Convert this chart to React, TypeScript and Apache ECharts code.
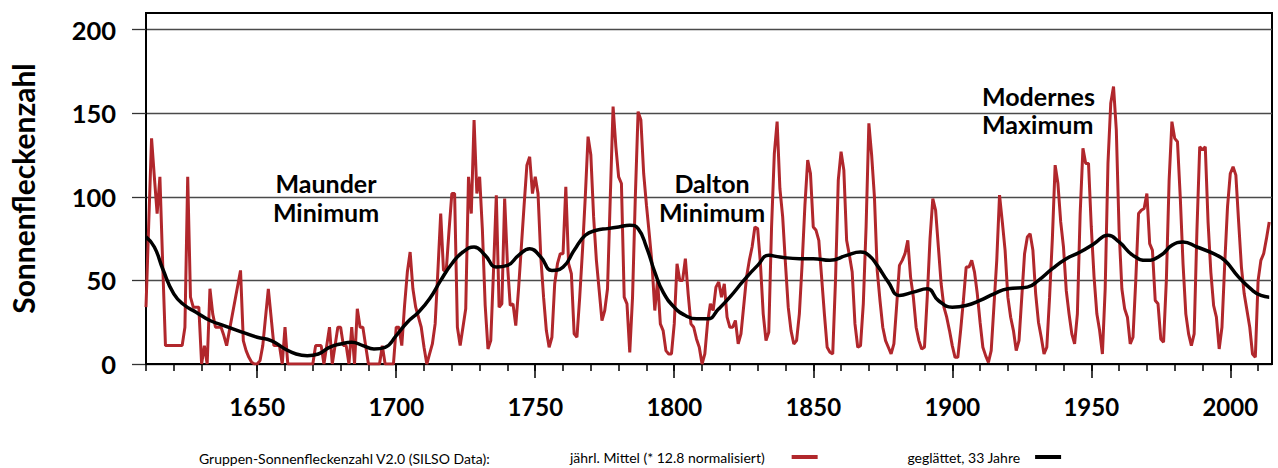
import React, { useEffect, useRef } from "react";
import * as echarts from "echarts";

// Gruppen-Sonnenfleckenzahl, jährliches Mittel (* 12.8), 1610 ... 2014
const FIRST_YEAR = 1610;
const annual1600s = [
  34, 85, 135, 112, 90, 112, 60, 11, 11, 11,
  11, 11, 11, 11, 22, 112, 40, 34, 34, 34,
  0, 11, 0, 45, 30, 22, 22, 22, 17, 11,
  20, 29, 38, 47, 56, 14, 8, 4, 1, 0,
  0, 2, 11, 28, 45, 28, 11, 11, 11, 0,
  22, 0, 0, 0, 0, 0, 0, 0, 0, 0,
  0, 11, 11, 11, 0, 11, 22, 0, 11, 22,
  22, 11, 11, 0, 22, 0, 33, 22, 22, 11,
  0, 0, 0, 0, 0, 11, 0, 0, 0, 0,
];
const annual1700s = [
  22, 22, 11, 35, 55, 67, 45, 34, 28, 22,
  10, 0, 6, 12, 24, 56, 90, 56, 56, 80,
  102, 102, 22, 11, 22, 33, 112, 90, 146, 102,
  112, 80, 35, 9, 14, 56, 101, 34, 36, 99,
  60, 35, 36, 23, 45, 70, 95, 119, 124, 102,
  112, 102, 64, 40, 20, 10, 16, 48, 60, 66,
  66, 106, 60, 54, 18, 16, 40, 68, 100, 136,
  125, 88, 62, 44, 26, 32, 45, 100, 154, 130,
  112, 108, 40, 36, 7, 40, 100, 151, 146, 114,
  95, 78, 60, 32, 50, 24, 20, 8, 6, 6,
];
const annual1800s = [
  24, 60, 50, 50, 63, 42, 24, 22, 15, 10,
  0, 6, 25, 36, 32, 46, 49, 40, 48, 28,
  22, 22, 26, 12, 18, 35, 52, 62, 70, 82,
  81, 60, 30, 14, 19, 82, 126, 145, 105, 88,
  60, 34, 20, 12, 14, 30, 60, 95, 122, 114,
  82, 80, 74, 52, 30, 10, 7, 6, 50, 110,
  127, 116, 74, 65, 55, 24, 10, 11, 36, 82,
  144, 125, 100, 56, 38, 22, 14, 10, 6, 12,
  35, 59, 62, 66, 74, 52, 40, 22, 14, 9,
  10, 40, 75, 99, 92, 70, 48, 34, 28, 20,
];
const annual1900s = [
  11, 4, 4, 20, 38, 58, 58, 62, 55, 42,
  25, 10, 5, 1, 8, 35, 62, 101, 85, 68,
  40, 28, 20, 8, 14, 40, 66, 76, 78, 68,
  42, 25, 16, 6, 10, 40, 75, 119, 108, 85,
  70, 44, 30, 18, 12, 30, 90, 129, 120, 120,
  82, 52, 30, 20, 6, 45, 120, 156, 166, 140,
  80, 45, 33, 28, 12, 16, 50, 90, 92, 93,
  102, 72, 68, 38, 36, 15, 13, 50, 110, 145,
  135, 133, 100, 60, 30, 18, 11, 18, 80, 130,
  128, 130, 85, 55, 35, 28, 9, 22, 60, 94,
];
const annual2000s = [
  114, 118, 113, 85, 58, 42, 32, 22, 6, 4,
  50, 62, 66, 75, 85,
];

// geglättet, 33 Jahre
const smoothYears = [
  1610, 1613, 1616, 1620, 1624, 1628, 1633, 1638, 1643, 1650, 1655, 1660, 1664, 1668,
  1672, 1676, 1680, 1684, 1688, 1692, 1696, 1700, 1704, 1708, 1712, 1716, 1720, 1724,
  1728, 1732, 1736, 1740, 1744, 1748, 1752, 1756, 1760, 1764, 1768, 1772, 1776, 1780,
  1784, 1787, 1790, 1793, 1796, 1800, 1804, 1808, 1812, 1816, 1820, 1825, 1830, 1834,
  1838, 1845, 1850, 1856, 1862, 1867, 1870, 1873, 1877, 1881, 1886, 1891, 1895, 1900,
  1905, 1910, 1915, 1920, 1927, 1931, 1936, 1941, 1946, 1951, 1956, 1960, 1965, 1970,
  1975, 1979, 1983, 1988, 1994, 1998, 2003, 2008, 2011, 2014,
];
const smoothValues = [
  76, 70, 57, 42, 35, 31, 26, 23, 20, 16, 14, 9, 6, 5,
  6, 10, 12, 13, 11, 9, 10, 17, 25, 31, 39, 50, 60, 67,
  70, 65, 58, 59, 65, 69, 64, 56, 58, 68, 77, 80, 81, 82,
  83, 81, 70, 55, 43, 34, 29, 27, 27, 33, 40, 50, 59, 65,
  64, 63, 63, 62, 65, 67, 65, 59, 49, 41, 43, 45, 38, 34,
  35, 38, 42, 45, 46, 50, 57, 63, 67, 72, 77, 73, 65, 62,
  65, 71, 73, 70, 66, 62, 52, 44, 41, 40,
];

const yTickValues = [0, 50, 100, 150, 200];
const xLabelYears = [1650, 1700, 1750, 1800, 1850, 1900, 1950, 2000];
const xMinorYears = [
  1610, 1620, 1630, 1640, 1650, 1660, 1670, 1680, 1690, 1700, 1710, 1720, 1730, 1740,
  1750, 1760, 1770, 1780, 1790, 1800, 1810, 1820, 1830, 1840, 1850, 1860, 1870, 1880,
  1890, 1900, 1910, 1920, 1930, 1940, 1950, 1960, 1970, 1980, 1990, 2000, 2010,
];

const SERIES_ANNUAL = "jährl. Mittel (* 12.8 normalisiert)";
const SERIES_SMOOTH = "geglättet, 33 Jahre";
const SOURCE_LABEL = "Gruppen-Sonnenfleckenzahl V2.0 (SILSO Data):";
const Y_TITLE = "Sonnenfleckenzahl";
const annotationTexts = [
  ["Maunder", "Minimum"],
  ["Dalton", "Minimum"],
  ["Modernes", "Maximum"],
];

const RED = "#B1272C";
const FONT = "Lato";

export default function App() {
  const ref = useRef<HTMLDivElement>(null);

  useEffect(() => {
    if (!ref.current) return;
    const chart = echarts.init(ref.current, undefined, { renderer: "svg" });

    const annualValues = [
      ...annual1600s,
      ...annual1700s,
      ...annual1800s,
      ...annual1900s,
      ...annual2000s,
    ];
    const annualData = annualValues.map((v, i) => [FIRST_YEAR + i, v]);
    const smoothData = smoothYears.map((y, i) => [y, smoothValues[i]]);

    const annoLine = (text: string, x: number, y: number, align: string) => ({
      type: "text",
      x,
      y,
      z: 10,
      style: {
        text,
        fontFamily: FONT,
        fontWeight: "bold",
        fontSize: 25,
        fill: "#000",
        textAlign: align,
        textVerticalAlign: "middle",
      },
    });
    const anno = (lines: string[], x: number, y0: number, gap: number, align: string) =>
      lines.map((t, i) => annoLine(t, x, y0 + i * gap, align));

    const legendText = (gap: number) => ({
      fontFamily: FONT,
      fontSize: 14,
      color: "#000",
      padding: [0, gap, 0, 0],
    });

    chart.setOption({
      animation: false,
      backgroundColor: "#fff",
      grid: {
        left: 145,
        right: 6,
        top: 13,
        bottom: 104,
        show: true,
        borderColor: "#000",
        borderWidth: 2,
        containLabel: false,
      },
      legend: [
        {
          data: [SERIES_ANNUAL],
          left: 570,
          top: 450,
          padding: 0,
          align: "right",
          icon: "rect",
          itemWidth: 26,
          itemHeight: 4,
          textStyle: legendText(22),
        },
        {
          data: [SERIES_SMOOTH],
          left: 907,
          top: 450,
          padding: 0,
          align: "right",
          icon: "rect",
          itemWidth: 26,
          itemHeight: 4,
          textStyle: legendText(10),
        },
      ],
      xAxis: [
        {
          type: "value",
          min: 1610,
          max: 2015,
          position: "bottom",
          axisLine: { show: true, onZero: false, lineStyle: { color: "#000", width: 2 } },
          axisTick: {
            show: true,
            length: 7,
            customValues: xMinorYears,
            lineStyle: { color: "#000", width: 1.5 },
          },
          axisLabel: {
            customValues: xLabelYears,
            formatter: (v: number) => String(v),
            fontFamily: FONT,
            fontWeight: "bold",
            fontSize: 24,
            color: "#000",
            margin: 30,
          },
          splitLine: { show: false },
        },
        {
          type: "value",
          min: 1610,
          max: 2015,
          position: "bottom",
          axisLine: { show: false },
          axisTick: {
            show: true,
            length: 14,
            customValues: xLabelYears,
            lineStyle: { color: "#000", width: 1.5 },
          },
          axisLabel: { show: false },
          splitLine: { show: false },
        },
      ],
      yAxis: {
        type: "value",
        min: 0,
        max: 210,
        interval: 50,
        axisLine: { show: true, lineStyle: { color: "#000", width: 2 } },
        axisTick: {
          show: true,
          length: 14,
          customValues: yTickValues,
          lineStyle: { color: "#333", width: 1.3 },
        },
        axisLabel: {
          customValues: yTickValues,
          formatter: (v: number) => String(v),
          fontFamily: FONT,
          fontWeight: "bold",
          fontSize: 25.5,
          color: "#000",
          margin: 30,
        },
        splitLine: { show: true, lineStyle: { color: "#4a4a4a", width: 1.3 } },
        name: Y_TITLE,
        nameLocation: "middle",
        nameRotate: 90,
        nameGap: 108,
        nameTextStyle: {
          fontFamily: FONT,
          fontWeight: "bold",
          fontSize: 30,
          color: "#000",
        },
      },
      series: [
        {
          name: SERIES_ANNUAL,
          type: "line",
          xAxisIndex: 0,
          data: annualData,
          symbol: "none",
          showSymbol: false,
          lineStyle: { color: RED, width: 3 },
          itemStyle: { color: RED },
          z: 2,
        },
        {
          name: SERIES_SMOOTH,
          type: "line",
          xAxisIndex: 0,
          data: smoothData,
          smooth: 0.5,
          symbol: "none",
          showSymbol: false,
          lineStyle: { color: "#000", width: 3.5 },
          itemStyle: { color: "#000" },
          z: 3,
        },
      ],
      graphic: [
        ...anno(annotationTexts[0], 326, 183, 29, "center"),
        ...anno(annotationTexts[1], 712, 183, 29, "center"),
        ...anno(annotationTexts[2], 982, 96, 28, "left"),
        {
          type: "text",
          x: 199,
          y: 458.5,
          style: {
            text: SOURCE_LABEL,
            fontFamily: FONT,
            fontSize: 14,
            fill: "#000",
            textVerticalAlign: "middle",
          },
        },
      ],
    });

    return () => chart.dispose();
  }, []);

  return (
    <div
      ref={ref}
      style={{ position: "absolute", left: 0, top: 0, width: 1278, height: 468 }}
    />
  );
}
